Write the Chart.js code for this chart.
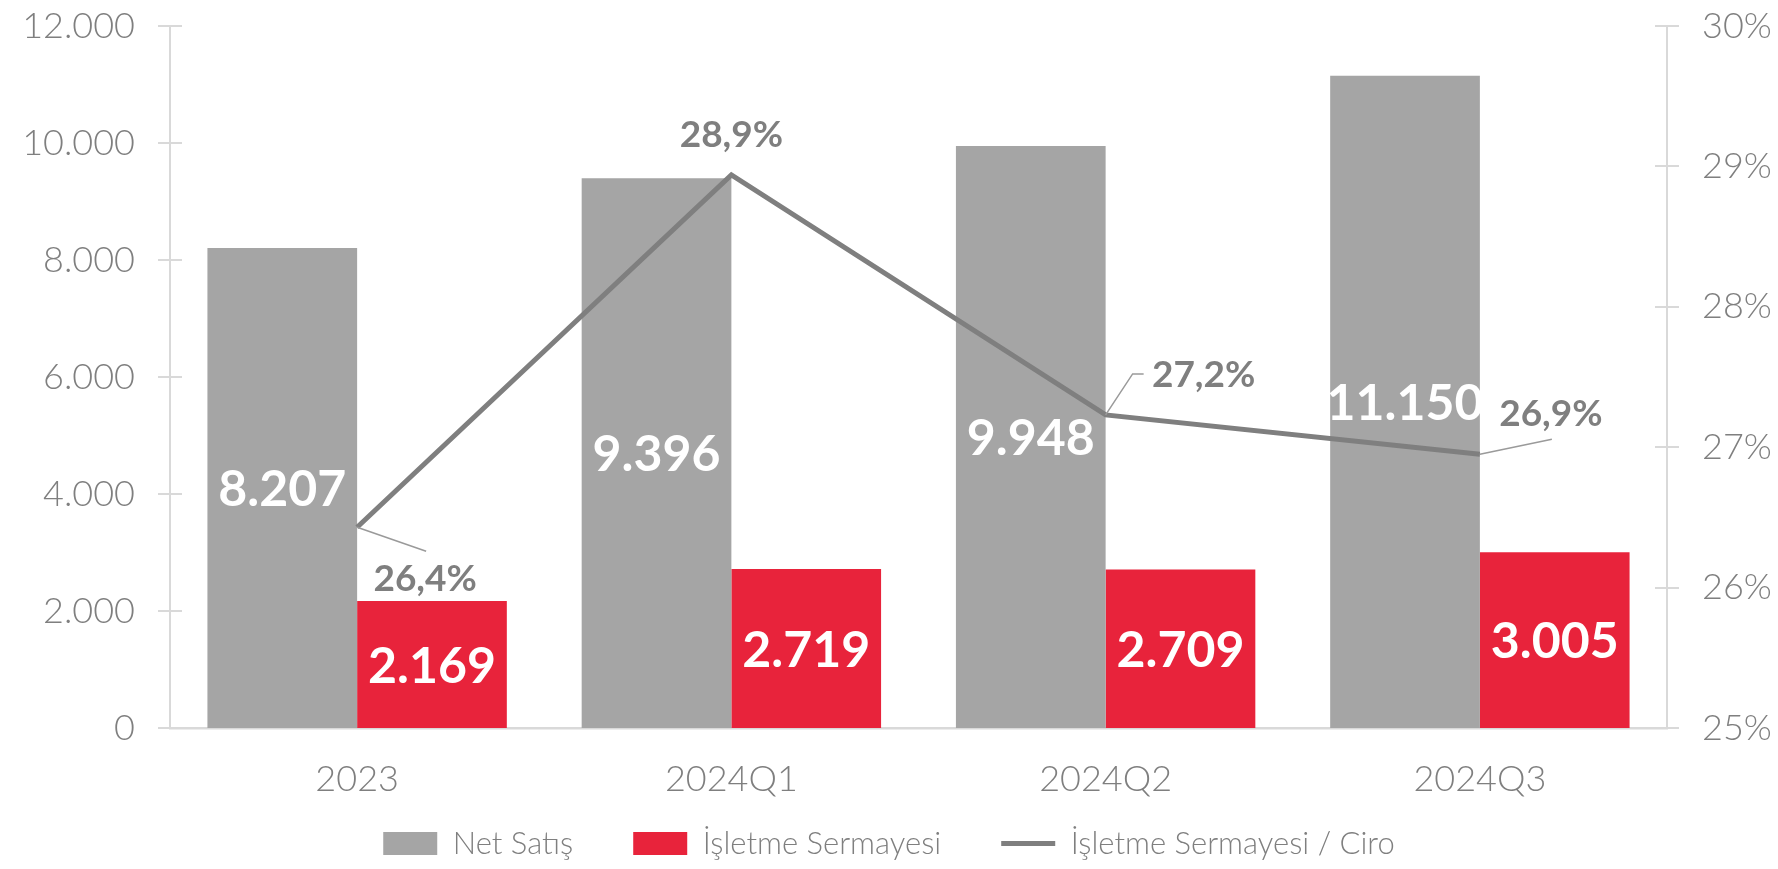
<!DOCTYPE html>
<html>
<head>
<meta charset="utf-8">
<title>Net Satış ve İşletme Sermayesi</title>
<script src="https://cdn.jsdelivr.net/npm/chart.js@4"></script>
<style>
	html, body { margin: 0; padding: 0; background: #fff; }
	#wrap { width: 1778px; height: 869px; }
</style>
</head>
<body>
<div id="wrap"><canvas id="wcChart" width="1778" height="869"></canvas></div>
<script>
// values
const periods = ['2023', '2024Q1', '2024Q2', '2024Q3'];
const netSales = [8207, 9396, 9948, 11150];
const workingCapital = [2169, 2719, 2709, 3005];
const capitalToSales = [26.43, 28.94, 27.23, 26.95]; // %

const seriesNames = ['Net Satış', 'İşletme Sermayesi', 'İşletme Sermayesi / Ciro'];

const GRAY_BAR = '#a5a5a5';
const RED_BAR = '#e8233b';
const LINE_GRAY = '#7f7f7f';
const AXIS_GRAY = '#d9d9d9';
const TEXT_GRAY = '#7f7f7f';
const FONT = 'Lato, "Open Sans", sans-serif';

// where each % label sits relative to its point, and its leader line (pixels)
const lineLabelOffsets = [[68, 52], [0, -40], [98, -40], [71, -40]];
const leaderPaths = [
	[[0, 0], [69, 24]],
	null,
	[[0, 0], [27, -41], [38, -41]],
	[[0, 0], [72, -15]]
];

function fmtThousands(v) {
	return String(v).replace(/\B(?=(\d{3})+(?!\d))/g, '.');
}

function fmtPercent(v) {
	return v.toFixed(1).replace('.', ',') + '%';
}

// value axes: fixed width, and no extra top/bottom padding from tick padding
function fixValueAxis(width) {
	return function (scale) {
		scale.width = width;
		scale.paddingTop = 0;
		scale.paddingBottom = 0;
	};
}

// Excel style "cross" tick marks on both value axes
const crossTicks = {
	id: 'crossTicks',
	afterDraw(chart) {
		const ctx = chart.ctx;
		ctx.save();
		ctx.strokeStyle = AXIS_GRAY;
		ctx.lineWidth = 2;
		['y', 'y1'].forEach(id => {
			const scale = chart.scales[id];
			const x = scale.position === 'left' ? scale.right : scale.left;
			scale.ticks.forEach(t => {
				const py = Math.round(scale.getPixelForValue(t.value));
				ctx.beginPath();
				ctx.moveTo(x - 12, py);
				ctx.lineTo(x + 12, py);
				ctx.stroke();
			});
		});
		ctx.restore();
	}
};

const valueLabels = {
	id: 'valueLabels',
	afterDatasetsDraw(chart) {
		const ctx = chart.ctx;
		ctx.save();
		ctx.textAlign = 'center';
		ctx.textBaseline = 'middle';

		// bar values, centred in each bar
		ctx.fillStyle = '#ffffff';
		ctx.font = `bold 50px ${FONT}`;
		[0, 1].forEach(di => {
			const meta = chart.getDatasetMeta(di);
			meta.data.forEach((bar, i) => {
				const v = chart.data.datasets[di].data[i];
				ctx.fillText(fmtThousands(v), bar.x, (bar.y + bar.base) / 2 + 2);
			});
		});

		// ratio labels with leader lines
		const lineMeta = chart.getDatasetMeta(2);
		lineMeta.data.forEach((pt, i) => {
			const path = leaderPaths[i];
			if (path) {
				ctx.strokeStyle = '#9a9a9a';
				ctx.lineWidth = 1.5;
				ctx.beginPath();
				path.forEach(([dx, dy], k) => {
					if (k === 0) ctx.moveTo(pt.x + dx, pt.y + dy);
					else ctx.lineTo(pt.x + dx, pt.y + dy);
				});
				ctx.stroke();
			}
			const [ox, oy] = lineLabelOffsets[i];
			ctx.fillStyle = TEXT_GRAY;
			ctx.font = `bold 37px ${FONT}`;
			ctx.fillText(fmtPercent(capitalToSales[i]), pt.x + ox, pt.y + oy);
		});
		ctx.restore();
	}
};

const ctx = document.getElementById('wcChart').getContext('2d');

const chart = new Chart(ctx, {
	type: 'bar',
	data: {
		labels: periods,
		datasets: [
			{
				label: seriesNames[0],
				data: netSales,
				backgroundColor: GRAY_BAR,
				yAxisID: 'y',
				order: 1
			},
			{
				label: seriesNames[1],
				data: workingCapital,
				backgroundColor: RED_BAR,
				yAxisID: 'y',
				order: 1
			},
			{
				type: 'line',
				label: seriesNames[2],
				data: capitalToSales,
				borderColor: LINE_GRAY,
				backgroundColor: LINE_GRAY,
				borderWidth: 5,
				pointRadius: 0,
				tension: 0,
				yAxisID: 'y1',
				order: 0
			}
		]
	},
	options: {
		responsive: false,
		animation: false,
		devicePixelRatio: 1,
		datasets: {
			bar: {
				categoryPercentage: 0.8,
				barPercentage: 1.0
			}
		},
		layout: {
			padding: { top: 26, left: 0, right: 0, bottom: 0 }
		},
		plugins: {
			tooltip: { enabled: false },
			legend: {
				position: 'bottom',
				labels: {
					color: TEXT_GRAY,
					font: { family: FONT, size: 31, weight: '300' },
					usePointStyle: true,
					pointStyleWidth: 54,
					boxHeight: 23,
					padding: 60,
					sort: (a, b) => a.datasetIndex - b.datasetIndex,
					generateLabels(chart) {
						const items = Chart.defaults.plugins.legend.labels.generateLabels(chart);
						items.forEach(item => {
							if (item.datasetIndex === 2) {
								item.pointStyle = 'line';
								item.strokeStyle = LINE_GRAY;
								item.lineWidth = 5;
							} else {
								item.pointStyle = 'rect';
								item.lineWidth = 0;
							}
						});
						return items;
					}
				}
			}
		},
		scales: {
			x: {
				grid: { display: false, drawTicks: false },
				border: { display: true, color: AXIS_GRAY, width: 2.5 },
				ticks: {
					color: TEXT_GRAY,
					font: { family: FONT, size: 36, weight: '300' },
					// mirrored so the labels are not clipped to the short axis box;
					// negative padding puts them back below the axis line
					mirror: true,
					padding: -73,
					maxRotation: 0
				},
				afterFit(scale) { scale.height = 40; }
			},
			y: {
				position: 'left',
				min: 0,
				max: 12000,
				grid: { display: false, drawTicks: false },
				border: { display: true, color: AXIS_GRAY, width: 2 },
				ticks: {
					stepSize: 2000,
					color: TEXT_GRAY,
					font: { family: FONT, size: 36, weight: '300' },
					padding: 35,
					callback: v => fmtThousands(v)
				},
				afterFit: fixValueAxis(170)
			},
			y1: {
				position: 'right',
				min: 25,
				max: 30,
				grid: { display: false, drawTicks: false },
				border: { display: true, color: AXIS_GRAY, width: 2 },
				ticks: {
					stepSize: 1,
					color: TEXT_GRAY,
					font: { family: FONT, size: 36, weight: '300' },
					padding: 35,
					callback: v => v + '%'
				},
				afterFit: fixValueAxis(111)
			}
		}
	},
	plugins: [crossTicks, valueLabels]
});
</script>
</body>
</html>
